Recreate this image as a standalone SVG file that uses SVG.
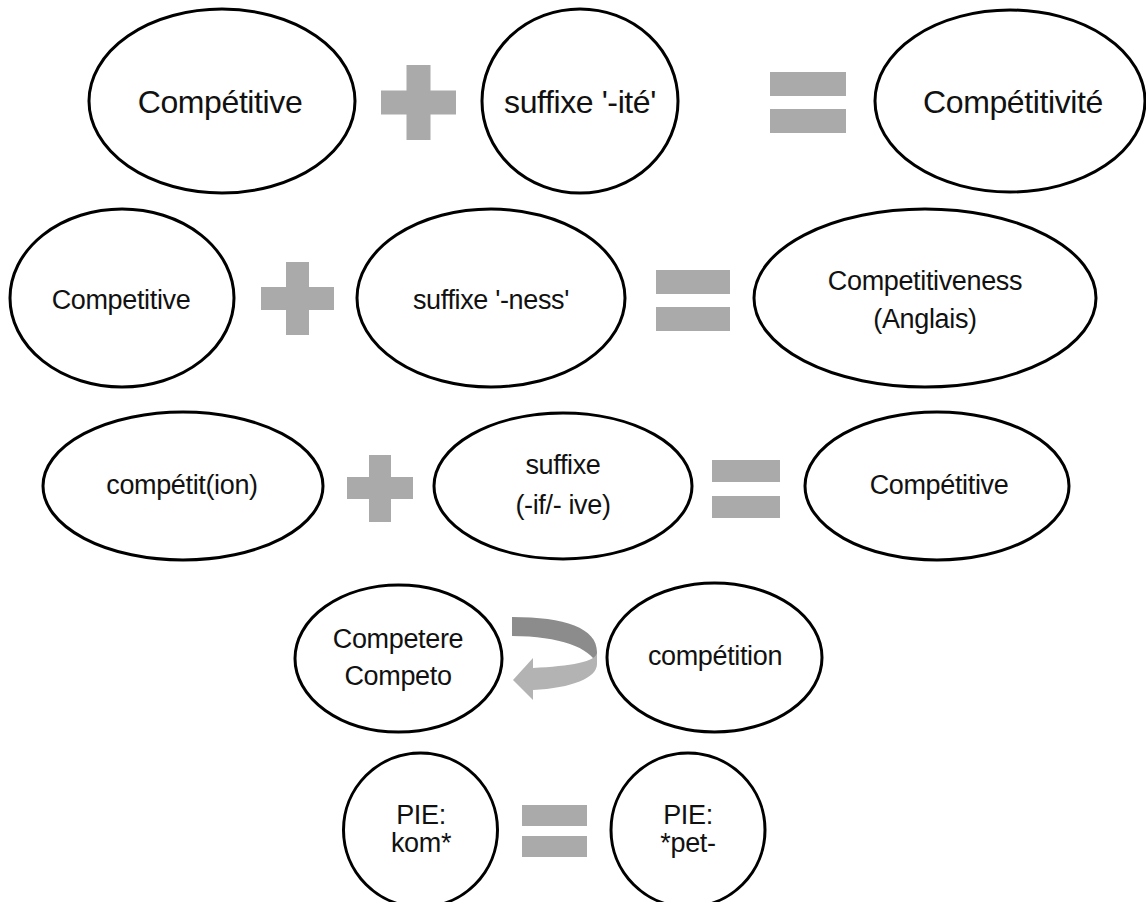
<svg xmlns="http://www.w3.org/2000/svg" width="1146" height="902" viewBox="0 0 1146 902">
<style>
.n{fill:#fff;stroke:#000;stroke-width:3}
.t{font-family:"Liberation Sans",Arial,Helvetica,sans-serif;fill:#111;text-anchor:middle}
.big{font-size:32px;letter-spacing:-0.4px}
.mid{font-size:27px;letter-spacing:-0.35px}
.op{fill:#aaaaaa}
</style>
<rect width="1146" height="902" fill="#fff"/>
<g id="connectors">
<g id="plus1" class="op"><rect x="406.5" y="65" width="24" height="75"/><rect x="381" y="90.5" width="75" height="24"/></g>
<g id="eq1" class="op"><rect x="770" y="72" width="76" height="24"/><rect x="770" y="109" width="76" height="24"/></g>
<g id="plus2" class="op"><rect x="286" y="262" width="23" height="73"/><rect x="261" y="287" width="73" height="23"/></g>
<g id="eq2" class="op"><rect x="656" y="270" width="74" height="24"/><rect x="656" y="307" width="74" height="24"/></g>
<g id="plus3" class="op"><rect x="369" y="455" width="22" height="67"/><rect x="347" y="477" width="66" height="22"/></g>
<g id="eq3" class="op"><rect x="712" y="460" width="68" height="22"/><rect x="712" y="496" width="68" height="22"/></g>
<g id="eq5" class="op"><rect x="522" y="805" width="65" height="21"/><rect x="522" y="836" width="65" height="21"/></g>
<g id="uturn">
<path d="M512,617 C565,617 597,628 597,652 L597,664 C590,648 560,636 512,636 Z" fill="#8c8c8c"/>
<path d="M597,652 L597,664 C597,678 572,688 533,690 L533,700 L513,680 L533,658 L533,668 C570,666 597,662 597,652 Z" fill="#b3b3b3"/>
</g>
</g>
<g id="n1"><ellipse class="n" cx="222" cy="101" rx="133" ry="92"/><text class="t big" x="220" y="113">Compétitive</text></g>
<g id="n2"><ellipse class="n" cx="580" cy="101" rx="98" ry="92"/><text class="t big" x="580" y="113">suffixe '-ité'</text></g>
<g id="n3"><ellipse class="n" cx="1010" cy="101" rx="135" ry="91"/><text class="t big" x="1013" y="113">Compétitivité</text></g>
<g id="n4"><ellipse class="n" cx="122" cy="298" rx="112" ry="89"/><text class="t mid" x="121" y="309">Competitive</text></g>
<g id="n5"><ellipse class="n" cx="491" cy="298" rx="134" ry="89"/><text class="t mid" x="491" y="309">suffixe '-ness'</text></g>
<g id="n6"><ellipse class="n" cx="925" cy="298" rx="171" ry="89"/><text class="t mid" x="925" y="290">Competitiveness</text><text class="t mid" x="925" y="328">(Anglais)</text></g>
<g id="n7"><ellipse class="n" cx="183" cy="486" rx="140" ry="74"/><text class="t mid" x="182" y="494">compétit(ion)</text></g>
<g id="n8"><ellipse class="n" cx="563" cy="486" rx="129" ry="73"/><text class="t mid" x="563" y="474">suffixe</text><text class="t mid" x="563" y="514">(-if/- ive)</text></g>
<g id="n9"><ellipse class="n" cx="937" cy="486" rx="132" ry="74"/><text class="t mid" x="939" y="494">Compétitive</text></g>
<g id="n10"><ellipse class="n" cx="398.5" cy="658.5" rx="103.5" ry="73.5"/><text class="t mid" x="398" y="648">Competere</text><text class="t mid" x="398" y="685">Competo</text></g>
<g id="n11"><ellipse class="n" cx="714.5" cy="657.5" rx="107.5" ry="74.5"/><text class="t mid" x="715" y="665">compétition</text></g>
<g id="n12"><circle class="n" cx="420.5" cy="830" r="77"/><text class="t mid" x="421" y="824">PIE:</text><text class="t mid" x="421" y="852">kom*</text></g>
<g id="n13"><circle class="n" cx="688" cy="830" r="77"/><text class="t mid" x="688" y="824">PIE:</text><text class="t mid" x="688" y="852">*pet-</text></g>
</svg>
